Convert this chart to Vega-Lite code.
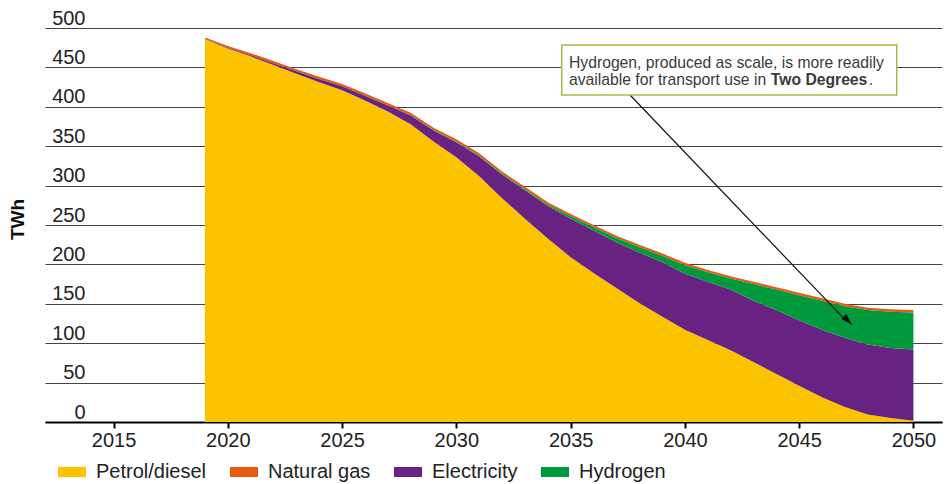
{
  "$schema": "https://vega.github.io/schema/vega-lite/v6.json",
  "width": 897,
  "height": 394,
  "autosize": "none",
  "padding": {"left": 45, "top": 28, "right": 6, "bottom": 62},
  "config": {
    "view": {"stroke": null},
    "font": "Liberation Sans",
    "text": {"font": "Liberation Sans"},
    "axisX": {
      "tickCount": 8, "format": "d", "grid": false,
      "domainColor": "#000", "domainWidth": 2,
      "tickColor": "#000", "tickWidth": 2, "tickSize": 6,
      "labelFontSize": 20, "labelColor": "#222", "labelBaseline": "alphabetic",
      "labelPadding": 18, "labelFont": "Liberation Sans", "labelOverlap": false
    },
    "axisY": {
      "tickCount": 10,
      "titleFontSize": 19, "titleFontWeight": "bold", "titleColor": "#111",
      "titleAngle": -90, "titleX": -22, "titleY": 191, "titleAlign": "center", "titleBaseline": "alphabetic",
      "domain": false, "ticks": false, "tickSize": 0,
      "grid": true, "gridColor": "#444", "gridWidth": 1.2,
      "labelFontSize": 20, "labelColor": "#222", "labelAlign": "right",
      "labelBaseline": "alphabetic", "labelPadding": -40, "labelOffset": -4,
      "labelFont": "Liberation Sans", "labelOverlap": false
    }
  },
  "datasets": {
    "energy": [
      {"year": 2019, "Petrol/diesel": 486, "Electricity": 0.5, "Hydrogen": 0, "Natural gas": 1.5},
      {"year": 2020, "Petrol/diesel": 474, "Electricity": 1, "Hydrogen": 0, "Natural gas": 2},
      {"year": 2021, "Petrol/diesel": 464, "Electricity": 1.5, "Hydrogen": 0, "Natural gas": 2.5},
      {"year": 2022, "Petrol/diesel": 453, "Electricity": 2, "Hydrogen": 0, "Natural gas": 3},
      {"year": 2023, "Petrol/diesel": 442, "Electricity": 3, "Hydrogen": 0, "Natural gas": 2.5},
      {"year": 2024, "Petrol/diesel": 431, "Electricity": 4, "Hydrogen": 0, "Natural gas": 3},
      {"year": 2025, "Petrol/diesel": 421, "Electricity": 5, "Hydrogen": 0, "Natural gas": 3},
      {"year": 2026, "Petrol/diesel": 408, "Electricity": 6, "Hydrogen": 0.2, "Natural gas": 3},
      {"year": 2027, "Petrol/diesel": 394, "Electricity": 7.5, "Hydrogen": 0.3, "Natural gas": 3},
      {"year": 2028, "Petrol/diesel": 378, "Electricity": 11, "Hydrogen": 0.4, "Natural gas": 3},
      {"year": 2029, "Petrol/diesel": 356, "Electricity": 14, "Hydrogen": 0.5, "Natural gas": 3},
      {"year": 2030, "Petrol/diesel": 336, "Electricity": 19, "Hydrogen": 0.7, "Natural gas": 3},
      {"year": 2031, "Petrol/diesel": 312, "Electricity": 25, "Hydrogen": 1, "Natural gas": 3},
      {"year": 2032, "Petrol/diesel": 284, "Electricity": 30, "Hydrogen": 1, "Natural gas": 3},
      {"year": 2033, "Petrol/diesel": 258, "Electricity": 36, "Hydrogen": 1.5, "Natural gas": 3},
      {"year": 2034, "Petrol/diesel": 233, "Electricity": 41, "Hydrogen": 2, "Natural gas": 3},
      {"year": 2035, "Petrol/diesel": 209, "Electricity": 49, "Hydrogen": 3, "Natural gas": 3},
      {"year": 2036, "Petrol/diesel": 189, "Electricity": 54, "Hydrogen": 4, "Natural gas": 3},
      {"year": 2037, "Petrol/diesel": 170, "Electricity": 58, "Hydrogen": 5.5, "Natural gas": 3},
      {"year": 2038, "Petrol/diesel": 151, "Electricity": 64, "Hydrogen": 7, "Natural gas": 3},
      {"year": 2039, "Petrol/diesel": 134, "Electricity": 69, "Hydrogen": 8, "Natural gas": 3},
      {"year": 2040, "Petrol/diesel": 117, "Electricity": 71, "Hydrogen": 11, "Natural gas": 3},
      {"year": 2041, "Petrol/diesel": 104, "Electricity": 74, "Hydrogen": 12, "Natural gas": 3},
      {"year": 2042, "Petrol/diesel": 91, "Electricity": 77, "Hydrogen": 14, "Natural gas": 3},
      {"year": 2043, "Petrol/diesel": 76, "Electricity": 78, "Hydrogen": 21, "Natural gas": 3},
      {"year": 2044, "Petrol/diesel": 61, "Electricity": 81, "Hydrogen": 26, "Natural gas": 3},
      {"year": 2045, "Petrol/diesel": 46, "Electricity": 83, "Hydrogen": 32, "Natural gas": 3},
      {"year": 2046, "Petrol/diesel": 31.5, "Electricity": 85.5, "Hydrogen": 37, "Natural gas": 3},
      {"year": 2047, "Petrol/diesel": 19, "Electricity": 88, "Hydrogen": 40, "Natural gas": 3},
      {"year": 2048, "Petrol/diesel": 9.5, "Electricity": 89, "Hydrogen": 43.5, "Natural gas": 3},
      {"year": 2049, "Petrol/diesel": 5, "Electricity": 89, "Hydrogen": 46, "Natural gas": 3},
      {"year": 2050, "Petrol/diesel": 1.5, "Electricity": 90.5, "Hydrogen": 47, "Natural gas": 3}
    ],
    "stackorder": [
      {"source": "Petrol/diesel", "rank": 1},
      {"source": "Electricity", "rank": 2},
      {"source": "Hydrogen", "rank": 3},
      {"source": "Natural gas", "rank": 4}
    ]
  },
  "layer": [
    {
      "data": {"name": "energy"},
      "transform": [
        {"fold": ["Petrol/diesel", "Natural gas", "Electricity", "Hydrogen"], "as": ["source", "twh"]},
        {"lookup": "source", "from": {"data": {"name": "stackorder"}, "key": "source", "fields": ["rank"]}}
      ],
      "mark": {"type": "area", "interpolate": "linear"},
      "encoding": {
        "x": {
          "field": "year", "type": "quantitative",
          "scale": {"domain": [2012, 2051.25], "nice": false, "zero": false},
          "axis": {"title": null}
        },
        "y": {
          "field": "twh", "type": "quantitative", "stack": "zero",
          "scale": {"domain": [0, 500], "nice": false},
          "axis": {"title": "TWh"}
        },
        "color": {
          "field": "source", "type": "nominal",
          "scale": {
            "domain": ["Petrol/diesel", "Natural gas", "Electricity", "Hydrogen"],
            "range": ["#FBC300", "#E55B13", "#682282", "#009A3D"]
          },
          "legend": {
            "orient": "none", "legendX": 13, "legendY": 430, "direction": "horizontal", "columns": 4,
            "title": null, "labelFontSize": 20, "labelColor": "#222", "labelFont": "Liberation Sans",
            "labelOffset": 10, "columnPadding": 23,
            "symbolType": "M-1,-0.36L1,-0.36L1,0.36L-1,0.36Z", "symbolSize": 784,
            "symbolStrokeWidth": 0, "symbolOpacity": 1
          }
        },
        "order": {"field": "rank", "type": "quantitative"}
      }
    },
    {
      "data": {"values": [{}]},
      "mark": {"type": "rule", "color": "#111", "strokeWidth": 1.2},
      "encoding": {
        "x": {"datum": 2037.6, "type": "quantitative"},
        "y": {"datum": 415, "type": "quantitative"},
        "x2": {"datum": 2046.9},
        "y2": {"datum": 133}
      }
    },
    {
      "data": {"values": [{}]},
      "mark": {"type": "point", "shape": "M0,0L-0.45,1.6L0.45,1.6Z", "filled": true, "color": "#111", "opacity": 1, "size": 225, "angle": 136, "strokeWidth": 0},
      "encoding": {
        "x": {"datum": 2047.32, "type": "quantitative"},
        "y": {"datum": 123.1, "type": "quantitative"}
      }
    },
    {
      "data": {"values": [{}]},
      "mark": {"type": "rect", "fill": "#ffffff", "stroke": "#A3BC45", "strokeWidth": 1.5},
      "encoding": {
        "x": {"datum": 2034.61, "type": "quantitative"},
        "x2": {"datum": 2049.27},
        "y": {"datum": 478.4, "type": "quantitative"},
        "y2": {"datum": 415}
      }
    },
    {
      "data": {"values": [{}]},
      "mark": {"type": "text", "align": "left", "baseline": "alphabetic", "fontSize": 15.7, "color": "#3a3a3a", "font": "Liberation Sans", "text": "Hydrogen, produced as scale, is more readily"},
      "encoding": {
        "x": {"datum": 2034.93, "type": "quantitative"},
        "y": {"datum": 449.6, "type": "quantitative"}
      }
    },
    {
      "data": {"values": [{}]},
      "mark": {"type": "text", "align": "left", "baseline": "alphabetic", "fontSize": 15.7, "color": "#3a3a3a", "font": "Liberation Sans", "text": "available for transport use in"},
      "encoding": {
        "x": {"datum": 2034.93, "type": "quantitative"},
        "y": {"datum": 427.7, "type": "quantitative"}
      }
    },
    {
      "data": {"values": [{}]},
      "mark": {"type": "text", "align": "left", "baseline": "alphabetic", "fontSize": 15.7, "fontWeight": "bold", "color": "#3a3a3a", "font": "Liberation Sans", "text": "Two Degrees"},
      "encoding": {
        "x": {"datum": 2043.76, "type": "quantitative"},
        "y": {"datum": 427.7, "type": "quantitative"}
      }
    },
    {
      "data": {"values": [{}]},
      "mark": {"type": "text", "align": "left", "baseline": "alphabetic", "fontSize": 15.7, "color": "#3a3a3a", "font": "Liberation Sans", "text": "."},
      "encoding": {
        "x": {"datum": 2048.05, "type": "quantitative"},
        "y": {"datum": 427.7, "type": "quantitative"}
      }
    }
  ]
}
